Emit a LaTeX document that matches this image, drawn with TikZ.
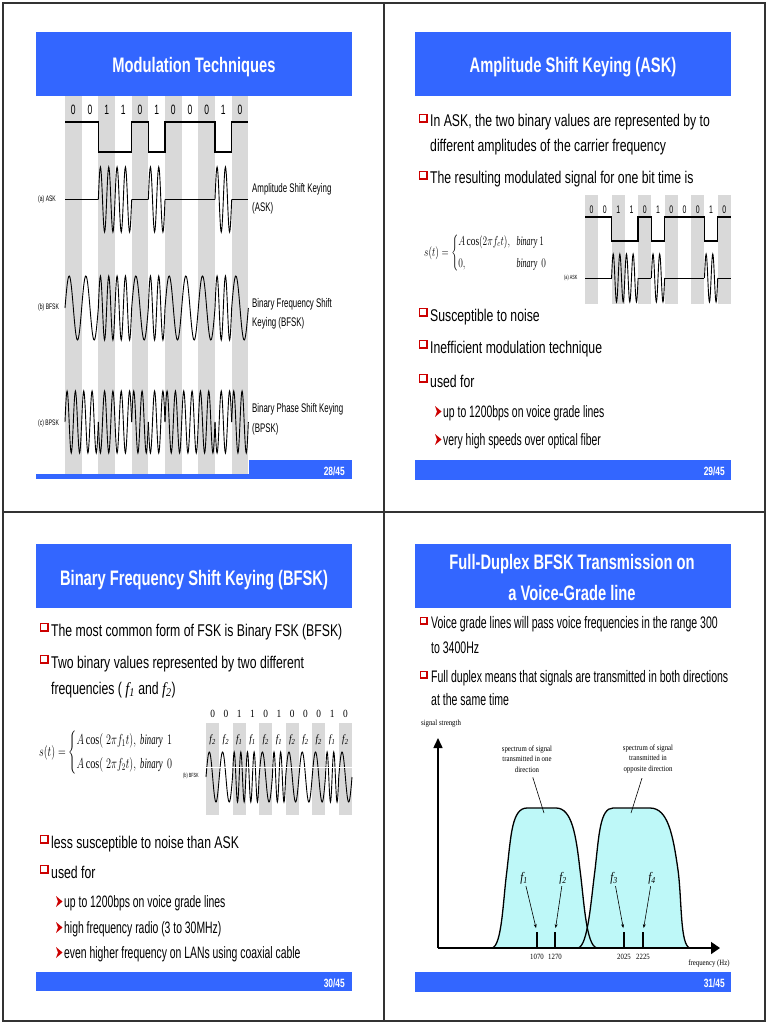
\RequirePackage{fix-cm}
\documentclass[tikz,border=0pt]{standalone}
\usepackage{amsmath}
\usepackage{graphicx}
\usepackage{fontspec}
\setmainfont{Liberation Serif}
\newfontfamily\ttlfont[FakeStretch=0.7]{Liberation Sans}
\newfontfamily\bdyfont[FakeStretch=0.72]{Liberation Sans}
\newfontfamily\nrwfont[FakeStretch=0.63]{Liberation Sans}
\newfontfamily\srffont[FakeStretch=0.85]{Liberation Serif}
\usetikzlibrary{arrows.meta}
\definecolor{slideblue}{RGB}{51,102,255}
\definecolor{bargray}{RGB}{217,217,217}
\definecolor{bulletred}{RGB}{204,0,0}
\definecolor{speccyan}{RGB}{190,248,248}

\def\bitlist{0/0,1/0,2/1,3/1,4/0,5/1,6/0,7/0,8/0,9/1,10/0}
% x0, w, top, bottom
\newcommand\graycols[4]{\foreach \kk in {0,2,...,10}{\fill[bargray] ({#1+\kk*#2},#3) rectangle ({#1+(\kk+1)*#2},#4);}}
% prefix, x0, w, y, font
\newcommand\bitlabels[5]{\foreach \kk/\bv in \bitlist {\node[inner sep=0,font=#5] (#1-\kk) at ({#2+(\kk+0.5)*#3},#4) {\bv};}}
% x0, w, hi, lo
\newcommand\digwave[4]{\draw[digi] (#1,#3) -- ({#1+2*#2},#3) -- ({#1+2*#2},#4) -- ({#1+4*#2},#4) -- ({#1+4*#2},#3) -- ({#1+5*#2},#3) -- ({#1+5*#2},#4) -- ({#1+6*#2},#4) -- ({#1+6*#2},#3) -- ({#1+9*#2},#3) -- ({#1+9*#2},#4) -- ({#1+10*#2},#4) -- ({#1+10*#2},#3) -- ({#1+11*#2},#3);}
% x0, w, centre, amplitude
\newcommand\askwave[4]{\foreach \kk/\bv in \bitlist {%
  \pgfmathsetmacro\xa{#1+\kk*#2}\pgfmathsetmacro\xb{#1+(\kk+1)*#2}%
  \ifnum\bv=1\relax
    \draw[wave] plot[domain=\xa:\xb,samples=41] (\x,{#3-#4*sin(720*(\x-\xa)/#2)});
  \else
    \draw[wave] (\xa,#3) -- (\xb,#3);
  \fi}}
\newcommand\bfskwave[4]{\foreach \kk/\bv in \bitlist {%
  \pgfmathsetmacro\xa{#1+\kk*#2}\pgfmathsetmacro\xb{#1+(\kk+1)*#2}%
  \draw[wave] plot[domain=\xa:\xb,samples=41] (\x,{#3-#4*sin(360*(1+\bv)*(\x-\xa)/#2)});}}
\newcommand\bpskwave[4]{\foreach \kk/\bv in \bitlist {%
  \pgfmathsetmacro\xa{#1+\kk*#2}\pgfmathsetmacro\xb{#1+(\kk+1)*#2}%
  \draw[wave] plot[domain=\xa:\xb,samples=41] (\x,{#3-#4*sin(720*(\x-\xa)/#2+180*\bv)});}}
% x, top, size
\newcommand\qbullet[3]{\fill[bulletred] (#1,#2) rectangle ++(#3,#3); \fill[white] ({#1+1.2},{#2+1.2}) rectangle ++({#3-3.2},{#3-3.2});}
% x, baseline
\newcommand\subarrow[2]{\fill[bulletred] (#1,{#2-11}) -- ({#1+6.5},{#2-5.5}) -- (#1,#2) -- ({#1+2},{#2-5.5}) -- cycle;}

\begin{document}
\begin{tikzpicture}[x=1pt,y=-1pt,
  titlebar/.style={fill=slideblue},
  ttl/.style={text=white,font=\ttlfont\bfseries\fontsize{21}{25}\selectfont,inner sep=0,anchor=base},
  foot/.style={text=white,font=\ttlfont\bfseries\fontsize{12}{14}\selectfont,inner sep=0,anchor=base east},
  body/.style={font=\bdyfont\fontsize{17}{20}\selectfont,inner sep=0,anchor=base west},
  bodyn/.style={font=\nrwfont\fontsize{16.7}{20}\selectfont,inner sep=0,anchor=base west},
  sub/.style={font=\nrwfont\fontsize{16.5}{20}\selectfont,inner sep=0,anchor=base west},
  side/.style={font=\nrwfont\fontsize{12.5}{15}\selectfont,inner sep=0,anchor=base west},
  tinylbl/.style={font=\nrwfont\fontsize{8}{9}\selectfont,inner sep=0,anchor=west},
  wave/.style={line width=0.9pt},
  digi/.style={line width=1.4pt},
  graphtxt/.style={font=\srffont\fontsize{8}{9}\selectfont,inner sep=0},
  flabel/.style={font=\srffont\itshape\fontsize{13}{15}\selectfont,inner sep=0},
  farrow/.style={line width=0.6pt,-{Stealth[length=4pt,width=3pt]},shorten >=4pt,shorten <=2pt},
  bump/.style={line width=1.3pt},
]
\useasboundingbox (0,0) rectangle (768,1024);
\fill[white] (0,0) rectangle (768,1024);
\draw[line width=1.2pt,black!80] (3,3) rectangle (765,1021);
\draw[line width=1.2pt,black!80] (384,3) -- (384,1021);
\draw[line width=1.2pt,black!80] (3,512) -- (765,512);

% ================= Slide 1 =================
\fill[titlebar] (36,32) rectangle (352,96);
\node[ttl] (s1title) at (194,73) {Modulation Techniques};
\fill[titlebar] (36,460) rectangle (352,479);
\fill[white] (36,96) rectangle (249,474);
\graycols{65}{16.667}{96}{474}
\bitlabels{b1}{65}{16.667}{110}{\nrwfont\fontsize{13.5}{15}\selectfont}
\digwave{65}{16.667}{122}{152}
\askwave{65}{16.667}{199.5}{32.5}
\bfskwave{65}{16.667}{308}{32}
\bpskwave{65}{16.667}{422}{31}
\node[tinylbl] (s1la) at (38,199) {(a) ASK};
\node[tinylbl] (s1lb) at (38,307) {(b) BFSK};
\node[tinylbl] (s1lc) at (38,423) {(c) BPSK};
\node[side] (s1ra1) at (252,193) {Amplitude Shift Keying};
\node[side] (s1ra2) at (252,212) {(ASK)};
\node[side] (s1rb1) at (252,307) {Binary Frequency Shift};
\node[side] (s1rb2) at (252,326) {Keying (BFSK)};
\node[side] (s1rc1) at (252,412) {Binary Phase Shift Keying};
\node[side] (s1rc2) at (252,432) {(BPSK)};
\node[foot] (s1foot) at (345,475) {28/45};

% ================= Slide 2 =================
\fill[titlebar] (415,32) rectangle (731,96);
\node[ttl] (s2title) at (573,73) {Amplitude Shift Keying (ASK)};
\qbullet{419}{114}{9}
\node[body] (s2b1) at (430,127) {In ASK, the two binary values are represented by to};
\node[body] (s2b1b) at (430,152) {different amplitudes of the carrier frequency};
\qbullet{419}{171}{9}
\node[body] (s2b2) at (430,184) {The resulting modulated signal for one bit time is};
\node[anchor=west,inner sep=0,font=\srffont\fontsize{13}{15}\selectfont] (s2eq) at (424,253)
  {\scalebox{0.72}[1]{$s(t)=\left\{\begin{array}{@{}l@{\hspace{9pt}}l@{}} A\cos(2\pi f_c t), & \textit{binary}\ 1\\[7pt] 0, & \textit{binary}\ \ 0\end{array}\right.$}};
\graycols{585}{13.273}{195}{304}
\bitlabels{b2}{585}{13.273}{210}{\nrwfont\fontsize{11}{12}\selectfont}
\digwave{585}{13.273}{217}{241}
\askwave{585}{13.273}{278}{24}
\node[anchor=west,inner sep=0,font=\nrwfont\fontsize{6}{7}\selectfont] (s2la) at (564,278) {(a) ASK};
\qbullet{419}{308}{9}
\node[body] (s2b3) at (430,321) {Susceptible to noise};
\qbullet{419}{340}{9}
\node[body] (s2b4) at (430,353) {Inefficient modulation technique};
\qbullet{419}{374}{9}
\node[body] (s2b5) at (430,387) {used for};
\subarrow{435}{417}
\node[sub] (s2s1) at (443,417) {up to 1200bps on voice grade lines};
\subarrow{435}{445}
\node[sub] (s2s2) at (443,445) {very high speeds over optical fiber};
\fill[titlebar] (415,460) rectangle (731,480);
\node[foot] (s2foot) at (725,475) {29/45};

% ================= Slide 3 =================
\fill[titlebar] (36,544) rectangle (352,608);
\node[ttl] (s3title) at (194,585) {Binary Frequency Shift Keying (BFSK)};
\qbullet{40}{623}{9}
\node[body] (s3b1) at (51,636) {The most common form of FSK is Binary FSK (BFSK)};
\qbullet{40}{655}{9}
\node[body] (s3b2) at (51,668) {Two binary values represented by two different};
\node[body] (s3b2b) at (51,694) {frequencies ( {\srffont\itshape f\textsubscript{1}} and {\srffont\itshape f\textsubscript{2}})};
\node[anchor=west,inner sep=0,font=\srffont\fontsize{14.5}{16}\selectfont] (s3eq) at (39,753)
  {\scalebox{0.7}[1]{$s(t)=\left\{\begin{array}{@{}l@{\hspace{6pt}}l@{}} A\cos(\;2\pi f_1 t), & \textit{binary}\ \ 1\\[8pt] A\cos(\;2\pi f_2 t), & \textit{binary}\ \ 0\end{array}\right.$}};
\graycols{206}{13.273}{723}{815}
\bitlabels{b3}{206}{13.273}{714}{\srffont\fontsize{11}{13}\selectfont}
\foreach \kk/\bv in \bitlist {\node[inner sep=0,font=\srffont\itshape\fontsize{11}{13}\selectfont] (fq-\kk) at ({206+(\kk+0.5)*13.273},740) {f\textsubscript{\the\numexpr2-\bv\relax}};}
\bfskwave{206}{13.273}{777}{25}
\draw[white,line width=0.8pt] (206,767) -- (352,767);
\node[anchor=west,inner sep=0,font=\nrwfont\fontsize{6}{7}\selectfont] (s3lb) at (183,776) {(b) BFSK};
\qbullet{40}{835}{9}
\node[body] (s3b3) at (51,848) {less susceptible to noise than ASK};
\qbullet{40}{865}{9}
\node[body] (s3b4) at (51,878) {used for};
\subarrow{56}{907}
\node[sub] (s3s1) at (64,907) {up to 1200bps on voice grade lines};
\subarrow{56}{933}
\node[sub] (s3s2) at (64,933) {high frequency radio (3 to 30MHz)};
\subarrow{56}{958}
\node[sub] (s3s3) at (64,958) {even higher frequency on LANs using coaxial cable};
\fill[titlebar] (36,972) rectangle (352,991);
\node[foot] (s3foot) at (345,987) {30/45};

% ================= Slide 4 =================
\fill[titlebar] (415,544) rectangle (731,608);
\node[ttl] (s4title1) at (572,569) {Full-Duplex BFSK Transmission on};
\node[ttl] (s4title2) at (572,600) {a Voice-Grade line};
\qbullet{420}{617}{8}
\node[bodyn] (s4b1) at (431,628) {Voice grade lines will pass voice frequencies in the range 300};
\node[bodyn] (s4b1b) at (431,653) {to 3400Hz};
\qbullet{420}{671}{8}
\node[bodyn] (s4b2) at (431,682) {Full duplex means that signals are transmitted in both directions};
\node[bodyn] (s4b2b) at (431,705) {at the same time};
% spectrum graph
\fill[speccyan] (492,948) .. controls (502,946) and (503,900) .. (507,870) .. controls (511,835) and (512,808) .. (527,808) -- (556,808) .. controls (572,808) and (576,835) .. (580,870) .. controls (584,900) and (586,946) .. (597,948) -- cycle;
\fill[speccyan] (578,948) .. controls (588,946) and (591,900) .. (595,870) .. controls (599,835) and (600,808) .. (613,808) -- (650,808) .. controls (668,808) and (673,835) .. (678,870) .. controls (682,900) and (680,946) .. (690,948) -- cycle;
\draw[bump] (492,948) .. controls (502,946) and (503,900) .. (507,870) .. controls (511,835) and (512,808) .. (527,808) -- (556,808) .. controls (572,808) and (576,835) .. (580,870) .. controls (584,900) and (586,946) .. (597,948);
\draw[bump] (578,948) .. controls (588,946) and (591,900) .. (595,870) .. controls (599,835) and (600,808) .. (613,808) -- (650,808) .. controls (668,808) and (673,835) .. (678,870) .. controls (682,900) and (680,946) .. (690,948);
\coordinate (origin) at (438,948);
\coordinate (ytip) at (438,738);
\coordinate (xtip) at (720,948);
\draw[line width=1.5pt,-{Triangle[length=10pt,width=9pt]}] (origin) -- (ytip);
\draw[line width=1.5pt,-{Triangle[length=9pt,width=12pt]}] (origin) -- (xtip);
\node[graphtxt] (sigstr) at (441,724) {signal strength};
\node[graphtxt] (freqhz) at (709,964) {frequency (Hz)};
\node[graphtxt,align=center] (sp1) at (527,759) {spectrum of signal\\[1.5pt]transmitted in one\\[1.5pt]direction};
\node[graphtxt,align=center] (sp2) at (648,759) {spectrum of signal\\[1.5pt]transmitted in\\[1.5pt]opposite direction};
\coordinate (p1) at (544,813);
\coordinate (p2) at (631,813);
\draw[line width=0.6pt,shorten <=5pt] (sp1) -- (p1);
\draw[line width=0.6pt,shorten <=5pt] (sp2) -- (p2);
\foreach \nm/\xx/\lab in {t1/537/1070,t2/555/1270,t3/624/2025,t4/643/2225}{
  \coordinate (\nm) at (\xx,932);
  \draw[line width=1.1pt] (\nm) -- (\xx,948);
  \node[graphtxt] (\nm lab) at (\xx,957) {\lab};
}
\node[flabel] (fa) at (524,878) {f\textsubscript{1}};
\node[flabel] (fb) at (563,878) {f\textsubscript{2}};
\node[flabel] (fc) at (614,878) {f\textsubscript{3}};
\node[flabel] (fd) at (652,878) {f\textsubscript{4}};
\draw[farrow] (fa) -- (t1);
\draw[farrow] (fb) -- (t2);
\draw[farrow] (fc) -- (t3);
\draw[farrow] (fd) -- (t4);
\fill[titlebar] (415,972) rectangle (731,992);
\node[foot] (s4foot) at (725,987) {31/45};
\end{tikzpicture}
\end{document}
